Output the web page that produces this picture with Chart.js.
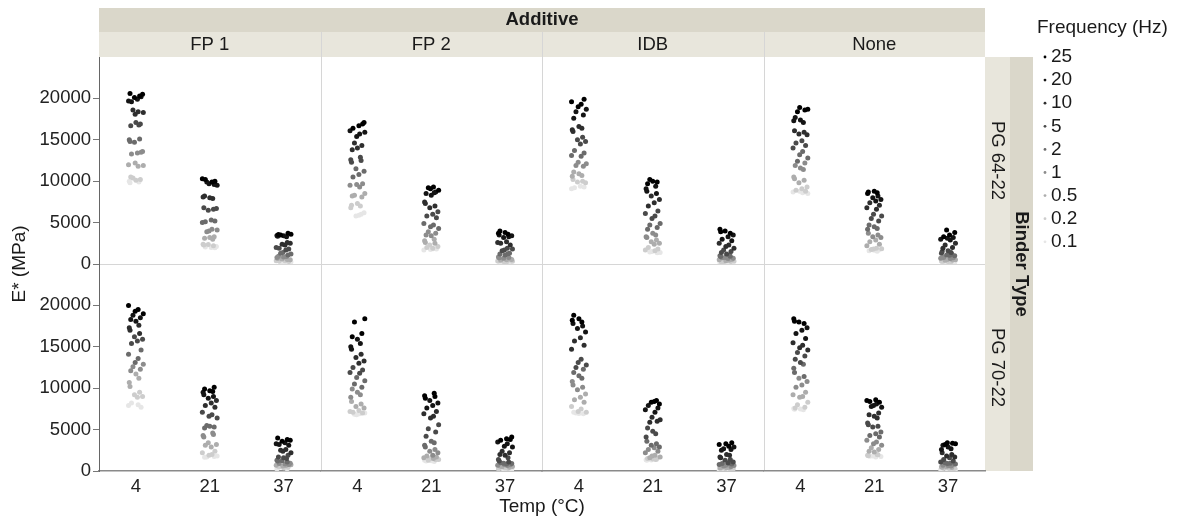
<!DOCTYPE html>
<html>
<head>
<meta charset="utf-8">
<script src="https://cdn.jsdelivr.net/npm/chart.js@4.4.1/dist/chart.umd.min.js"></script>
<style>
  html, body { margin: 0; padding: 0; background: #fff; }
  canvas { display: block; }
</style>
</head>
<body>
<canvas id="chart" width="1178" height="522"></canvas>
<script>
// Facets and categories
const temps = ['4', '21', '37'];
const additives = ['FP 1', 'FP 2', 'IDB', 'None'];
const binders = ['PG 64-22', 'PG 70-22'];
const freqs = ['25', '20', '10', '5', '2', '1', '0.5', '0.2', '0.1'];
const yTicksShown = [0, 5000, 10000, 15000, 20000];

// E* (MPa): one row per frequency (25 Hz ... 0.1 Hz), 4 replicates per row
const pg64_fp1_4 = [[20600, 20300, 20100, 20500], [19900, 19600, 20200, 19700], [18400, 18100, 18300, 18600], [16900, 16700, 17100, 16800], [15000, 14800, 15100, 14700], [13600, 13400, 13300, 13500], [12000, 11800, 12200, 11900], [10400, 10200, 10500, 10100], [9900, 10000, 9800, 10100]];
const pg64_fp1_21 = [[10200, 10000, 10300, 9900], [9700, 9500, 9900, 9600], [8200, 8000, 7900, 8100], [6800, 6600, 6500, 6700], [5300, 5100, 5200, 5000], [4200, 4000, 4100, 3900], [3300, 3100, 3200, 3000], [2400, 2300, 2200, 2350], [2100, 2000, 2050, 1950]];
const pg64_fp1_37 = [[3600, 3500, 3700, 3550], [3400, 3300, 3450, 3350], [2600, 2400, 2500, 2300], [1900, 1800, 2000, 1700], [1400, 1200, 1300, 1100], [950, 850, 900, 800], [650, 550, 600, 500], [400, 350, 300, 380], [200, 150, 250, 180]];

const pg64_fp2_4 = [[17100, 16700, 16400, 16900], [16100, 15700, 15400, 15900], [14600, 14300, 13800, 14000], [12900, 12600, 12300, 12500], [11500, 11200, 10800, 10500], [9700, 9500, 9300, 9600], [8500, 8300, 8100, 8200], [7300, 7000, 6800, 7100], [6000, 5800, 6200, 5900]];
const pg64_fp2_21 = [[9300, 9100, 8900, 9200], [8700, 8500, 8300, 8600], [7500, 7300, 7000, 6800], [6300, 6000, 5800, 5600], [4900, 4700, 4500, 4300], [3900, 3700, 3500, 3400], [3000, 2800, 2600, 2500], [2300, 2100, 1900, 2000], [1800, 1700, 1850, 1750]];
const pg64_fp2_37 = [[4000, 3800, 3600, 3700], [3500, 3300, 3200, 3400], [2700, 2500, 2300, 2600], [1900, 1700, 1800, 1600], [1300, 1200, 1100, 1250], [850, 750, 800, 700], [550, 500, 450, 600], [350, 300, 250, 320], [180, 150, 120, 200]];

const pg64_idb_4 = [[19900, 19600, 19300, 19000], [18700, 18400, 18000, 17600], [16600, 16400, 16200, 16000], [15300, 15000, 14800, 14500], [13700, 13400, 13100, 13000], [12300, 12100, 11900, 11800], [11100, 10900, 10700, 10600], [10200, 10000, 9900, 9800], [9400, 9200, 9300, 9100]];
const pg64_idb_21 = [[10200, 9900, 9700, 10000], [9400, 9100, 8800, 8500], [8200, 7800, 7400, 7000], [6400, 6100, 5800, 5500], [4900, 4700, 4400, 4200], [3700, 3500, 3300, 3200], [2900, 2700, 2500, 2400], [2000, 1800, 1700, 1600], [1500, 1400, 1450, 1350]];
const pg64_idb_37 = [[4200, 3900, 3700, 4000], [3500, 3300, 3000, 2800], [2500, 2300, 2100, 1900], [1700, 1500, 1400, 1200], [1100, 1000, 900, 950], [800, 700, 650, 750], [550, 500, 450, 400], [320, 280, 300, 250], [160, 140, 180, 120]];

const pg64_none_4 = [[18900, 18700, 18400, 18600], [17700, 17400, 17100, 17300], [16100, 15900, 15700, 15600], [14900, 14600, 14300, 14000], [13600, 13200, 12800, 12400], [12200, 11900, 11600, 11400], [10500, 10300, 10100, 9800], [9300, 9100, 8900, 8800], [8700, 8600, 8800, 8500]];
const pg64_none_21 = [[8800, 8600, 8500, 8700], [8200, 8000, 7800, 7600], [7400, 7100, 6800, 6600], [6000, 5800, 5500, 5200], [4700, 4500, 4300, 4200], [3700, 3500, 3300, 3200], [2900, 2700, 2400, 2200], [1900, 1800, 1850, 1750], [1700, 1600, 1650, 1550]];
const pg64_none_37 = [[4100, 3800, 3500, 3300], [3200, 3000, 2900, 3100], [2500, 2300, 2000, 1900], [1600, 1400, 1300, 1500], [1200, 1100, 1000, 1050], [800, 750, 700, 650], [550, 500, 450, 480], [330, 300, 280, 350], [200, 180, 150, 170]];

const pg70_fp1_4 = [[20000, 19500, 19300, 19000], [18800, 18500, 18300, 18100], [17600, 17300, 17000, 16600], [16200, 15900, 15700, 15400], [14600, 14100, 13600, 13100], [12900, 12600, 12300, 12100], [11700, 11200, 10700, 10200], [9500, 9200, 9000, 8900], [8200, 7700, 7900, 8000]];
const pg70_fp1_21 = [[10100, 9900, 9700, 9600], [9500, 9200, 9000, 8800], [8500, 8200, 7900, 7700], [7100, 6800, 6600, 6400], [5500, 5300, 5200, 5400], [4600, 4300, 4100, 4400], [3400, 3200, 2900, 3100], [2400, 2200, 2000, 1900], [1800, 1700, 1750, 1650]];
const pg70_fp1_37 = [[4000, 3800, 3600, 3700], [3400, 3200, 3100, 3300], [2600, 2400, 2200, 2500], [1900, 1700, 1600, 1500], [1300, 1200, 1100, 1250], [950, 850, 900, 800], [700, 650, 600, 750], [500, 450, 550, 400], [300, 250, 350, 280]];

const pg70_fp2_4 = [[18400, 18000, 16600, 16200], [15900, 15400, 15000, 14700], [14100, 13700, 13300, 13000], [12500, 12200, 11900, 11800], [11300, 10900, 10500, 10100], [9900, 9500, 9200, 8900], [8400, 8100, 7800, 7600], [7300, 7100, 7000, 7200], [6900, 6800, 7000, 6850]];
const pg70_fp2_21 = [[9400, 9100, 8800, 9000], [8500, 8200, 7900, 7600], [7200, 6900, 6600, 6400], [5600, 5100, 4700, 4200], [3600, 3400, 3100, 2900], [2600, 2400, 2200, 1900], [1800, 1700, 1600, 1500], [1500, 1400, 1300, 1350], [1200, 1250, 1150, 1300]];
const pg70_fp2_37 = [[4100, 3900, 3700, 3800], [3500, 3300, 3000, 2900], [2400, 2200, 2000, 1900], [1600, 1400, 1200, 1100], [950, 900, 850, 1000], [750, 700, 650, 800], [550, 500, 450, 600], [350, 300, 250, 320], [200, 150, 180, 120]];

const pg70_idb_4 = [[18800, 18400, 18000, 18200], [17800, 17500, 17200, 16800], [16100, 15700, 15200, 14700], [13500, 13100, 12800, 12500], [12300, 11900, 11500, 11200], [10800, 10400, 10100, 9800], [9300, 8900, 8600, 8300], [7800, 7500, 7200, 7100], [7000, 6900, 7100, 6950]];
const pg70_idb_21 = [[8500, 8300, 8100, 8400], [7900, 7600, 7400, 7100], [6500, 6200, 5900, 6000], [5200, 4800, 4500, 4100], [3600, 3300, 3100, 2900], [2800, 2600, 2400, 2200], [1900, 1800, 1700, 1600], [1550, 1500, 1450, 1400], [1350, 1300, 1380, 1320]];
const pg70_idb_37 = [[3400, 3200, 3000, 3300], [2900, 2700, 2600, 2500], [2000, 1900, 1700, 1600], [1400, 1300, 1100, 1000], [900, 850, 800, 950], [700, 650, 600, 550], [450, 400, 420, 380], [280, 250, 300, 230], [160, 140, 170, 130]];

const pg70_none_4 = [[18400, 18100, 17800, 18000], [17300, 17000, 16600, 16000], [15500, 15200, 14900, 14600], [14300, 13900, 13500, 13100], [12900, 12400, 11900, 11400], [11200, 10800, 10400, 10100], [9500, 9200, 9000, 8900], [8300, 8000, 7700, 7600], [7500, 7400, 7550, 7450]];
const pg70_none_21 = [[8600, 8400, 8300, 8500], [8100, 7900, 7700, 7800], [7000, 6800, 6600, 6400], [5800, 5600, 5400, 5300], [4700, 4500, 4300, 4100], [3700, 3500, 3300, 3100], [2800, 2600, 2400, 2300], [2000, 1900, 1850, 1950], [1800, 1750, 1700, 1780]];
const pg70_none_37 = [[3400, 3300, 3200, 3350], [3100, 2900, 2700, 2600], [2200, 2000, 1800, 1700], [1600, 1400, 1200, 1100], [950, 900, 850, 1000], [750, 700, 650, 600], [500, 450, 420, 480], [320, 280, 300, 250], [180, 160, 150, 200]];

// panel table: [binder][additive][temp]
const panels = [
  [[pg64_fp1_4, pg64_fp1_21, pg64_fp1_37], [pg64_fp2_4, pg64_fp2_21, pg64_fp2_37],
   [pg64_idb_4, pg64_idb_21, pg64_idb_37], [pg64_none_4, pg64_none_21, pg64_none_37]],
  [[pg70_fp1_4, pg70_fp1_21, pg70_fp1_37], [pg70_fp2_4, pg70_fp2_21, pg70_fp2_37],
   [pg70_idb_4, pg70_idb_21, pg70_idb_37], [pg70_none_4, pg70_none_21, pg70_none_37]]
];

// styling
const FONT = '"Liberation Sans", Arial, sans-serif';
const freqColors = ['#000000', '#141414', '#2e2e2e', '#4a4a4a', '#6b6b6b', '#8c8c8c', '#adadad', '#cdcdcd', '#e6e6e6'];
const jitter = [-0.08, 0.05, -0.02, 0.09, 0.02, -0.06, 0.07, -0.10, 0.03, -0.01, 0.10, -0.04, 0.06, -0.07, 0.00, 0.04, -0.09];
const rowIds = ['yTop', 'yBot'];

const datasets = [];
binders.forEach((b, r) => {
  additives.forEach((a, c) => {
    freqs.forEach((f, fi) => {
      const pts = [];
      temps.forEach((t, ti) => {
        panels[r][c][ti][fi].forEach((v, k) => {
          const j = jitter[(fi * 4 + k + ti * 5 + c * 3 + r * 7) % jitter.length];
          pts.push({ x: ti + 1 + j, y: v });
        });
      });
      datasets.push({
        label: b + ' / ' + a + ' / ' + f + ' Hz',
        data: pts,
        xAxisID: 'x' + c,
        yAxisID: rowIds[r],
        backgroundColor: freqColors[fi],
        borderWidth: 0,
        pointRadius: 2.5,
        showLine: false
      });
    });
  });
});

function xScale(i) {
  return {
    type: 'linear',
    position: 'bottom',
    stack: 'temp',
    min: 0.5,
    max: 3.5,
    afterBuildTicks: s => { s.ticks = temps.map((t, k) => ({ value: k + 1 })); },
    afterFit: s => { s.height = 51; },
    grid: { drawOnChartArea: false, drawTicks: false },
    border: { display: true, color: '#8a8a8a', width: 1.5 },
    ticks: {
      padding: 5,
      color: '#222',
      font: { family: FONT, size: 18.5 },
      callback: v => temps[v - 1]
    }
  };
}

function yScale(weight) {
  return {
    type: 'linear',
    position: 'left',
    stack: 'binder',
    weight: weight,
    min: 0,
    max: 25000,
    afterBuildTicks: s => {
      const list = [];
      for (let v = 0; v < 25000; v += 2500) list.push({ value: v });
      s.ticks = list;
    },
    afterFit: s => { s.width = 99; },
    grid: { drawOnChartArea: false, tickLength: 6, tickColor: '#777' },
    border: { display: true, color: '#666', width: 1 },
    ticks: {
      padding: 2,
      color: '#222',
      font: { family: FONT, size: 18.5 },
      callback: v => (yTicksShown.includes(v) ? String(v) : '')
    }
  };
}

const facetPlugin = {
  id: 'facets',
  beforeDraw(chart) {
    const { ctx, chartArea: a, scales } = chart;
    ctx.save();
    // Additive header strip
    ctx.fillStyle = '#dad7ca';
    ctx.fillRect(a.left, 8, a.right - a.left, 24);
    // sub strips
    ctx.fillStyle = '#e8e6dc';
    ctx.fillRect(a.left, 32, a.right - a.left, a.top - 32);
    // binder strips
    ctx.fillRect(a.right, a.top, 25, a.bottom - a.top);
    ctx.fillStyle = '#dad7ca';
    ctx.fillRect(a.right + 25, a.top, 23, a.bottom - a.top);

    ctx.fillStyle = '#1a1a1a';
    ctx.textAlign = 'center';
    ctx.textBaseline = 'middle';
    ctx.font = 'bold 18.5px ' + FONT;
    ctx.fillText('Additive', (a.left + a.right) / 2, 20);
    ctx.font = '18.5px ' + FONT;
    additives.forEach((name, c) => {
      const s = scales['x' + c];
      ctx.fillText(name, (s.left + s.right) / 2, 45);
    });
    binders.forEach((name, r) => {
      const s = scales[rowIds[r]];
      ctx.save();
      ctx.translate(a.right + 12.5, (s.top + s.bottom) / 2);
      ctx.rotate(Math.PI / 2);
      ctx.fillText(name, 0, 0);
      ctx.restore();
    });
    ctx.save();
    ctx.font = 'bold 18.5px ' + FONT;
    ctx.translate(a.right + 36.5, (a.top + a.bottom) / 2);
    ctx.rotate(Math.PI / 2);
    ctx.fillText('Binder Type', 0, 0);
    ctx.restore();

    // separators
    ctx.strokeStyle = '#d6d6d6';
    ctx.lineWidth = 1;
    for (let c = 0; c < additives.length - 1; c++) {
      const x = Math.round(scales['x' + c].right) + 0.5;
      ctx.beginPath();
      ctx.moveTo(x, 32);
      ctx.lineTo(x, a.bottom);
      ctx.stroke();
    }
    const yMid = Math.round(scales.yTop.bottom) + 0.5;
    ctx.beginPath();
    ctx.moveTo(a.left, yMid);
    ctx.lineTo(a.right, yMid);
    ctx.stroke();

    // axis titles
    ctx.fillStyle = '#1a1a1a';
    ctx.font = '19px ' + FONT;
    ctx.fillText('Temp (\u00B0C)', (a.left + a.right) / 2, 507);
    ctx.save();
    ctx.translate(20, (a.top + a.bottom) / 2);
    ctx.rotate(-Math.PI / 2);
    ctx.fillText('E* (MPa)', 0, 0);
    ctx.restore();

    // frequency legend
    const lx = a.right + 52;
    ctx.textAlign = 'left';
    ctx.fillText('Frequency (Hz)', lx, 28);
    freqs.forEach((f, i) => {
      const y = 57 + i * 23.1;
      ctx.fillStyle = freqColors[i];
      ctx.beginPath();
      ctx.arc(lx + 8, y, 1.4, 0, Math.PI * 2);
      ctx.fill();
      ctx.fillStyle = '#1a1a1a';
      ctx.fillText(f, lx + 14, y);
    });
    ctx.restore();
  }
};

new Chart(document.getElementById('chart'), {
  type: 'scatter',
  data: { datasets },
  options: {
    responsive: false,
    animation: false,
    devicePixelRatio: 1,
    layout: { padding: { top: 57, right: 193, left: 0, bottom: 0 } },
    plugins: { legend: { display: false }, tooltip: { enabled: false } },
    scales: {
      x0: xScale(0), x1: xScale(1), x2: xScale(2), x3: xScale(3),
      yBot: yScale(0), yTop: yScale(1)
    }
  },
  plugins: [facetPlugin]
});
</script>
</body>
</html>
